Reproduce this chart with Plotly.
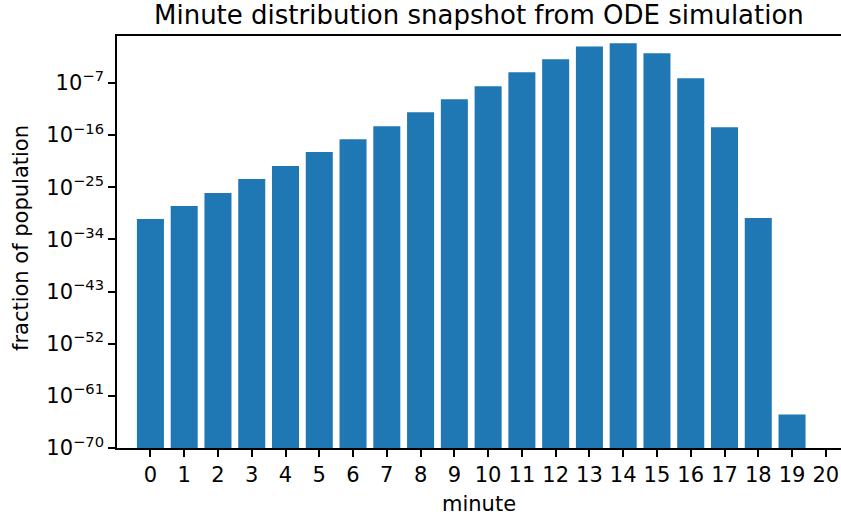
import plotly.graph_objects as go

minutes = list(range(21))
fractions = [3.4e-31, 5.9e-29, 1.0e-26, 2.6e-24, 4.6e-22, 1.2e-19, 2.0e-17,
             3.5e-15, 8.9e-13, 1.5e-10, 2.7e-08, 6.9e-06, 1.2e-03, 0.20,
             0.68, 0.013, 6.3e-07, 2.3e-15, 5.1e-31, 6.3e-65, 0.0]
ytick_exps = [-70, -61, -52, -43, -34, -25, -16, -7]
ytick_vals = [10.0 ** e for e in ytick_exps]
ytick_text = ["10<sup>\u2212%d</sup>" % (-e) for e in ytick_exps]
xtick_text = [str(m) for m in minutes]

FONT = "DejaVu Sans"
fig = go.Figure(go.Bar(x=minutes, y=fractions, width=0.8,
                       marker=dict(color="#1f77b4", line=dict(width=0))))

fig.update_layout(
    width=841, height=519,
    margin=dict(l=117, r=0, t=36, b=71),
    paper_bgcolor="white", plot_bgcolor="white",
    font=dict(family=FONT, size=21, color="black"),
    showlegend=False,
    xaxis=dict(range=[-0.99, 20.45], tickmode="array", tickvals=minutes,
               ticktext=xtick_text, ticks="outside", ticklen=7, tickwidth=1.5,
               tickcolor="black", showline=True, linecolor="black", linewidth=1.6,
               mirror=True, showgrid=False, zeroline=False,
               tickfont=dict(family=FONT, size=21)),
    yaxis=dict(type="log", range=[-70, 1.1], tickmode="array",
               tickvals=ytick_vals, ticktext=ytick_text, ticks="outside",
               ticklen=7, tickwidth=1.5, tickcolor="black", showline=True,
               linecolor="black", linewidth=1.6, showgrid=False,
               zeroline=False, tickfont=dict(family=FONT, size=21)),
    annotations=[
        dict(text="Minute distribution snapshot from ODE simulation",
             xref="paper", yref="paper", x=0.5, y=(448 - 15) / 412,
             xanchor="center", yanchor="middle", showarrow=False,
             font=dict(family=FONT, size=26)),
        dict(text="minute", xref="paper", yref="paper", x=0.5,
             y=(448 - 504) / 412, xanchor="center", yanchor="middle",
             showarrow=False, font=dict(family=FONT, size=21)),
        dict(text="fraction of population", xref="paper", yref="paper",
             x=(21 - 117) / 724, y=(448 - 238) / 412, textangle=-90,
             xanchor="center", yanchor="middle", showarrow=False,
             font=dict(family=FONT, size=21)),
    ],
)

fig.write_html(
    "out.html",
    config={"displayModeBar": False},
    post_script="document.body.style.margin='0';document.body.style.overflow='hidden';",
)
